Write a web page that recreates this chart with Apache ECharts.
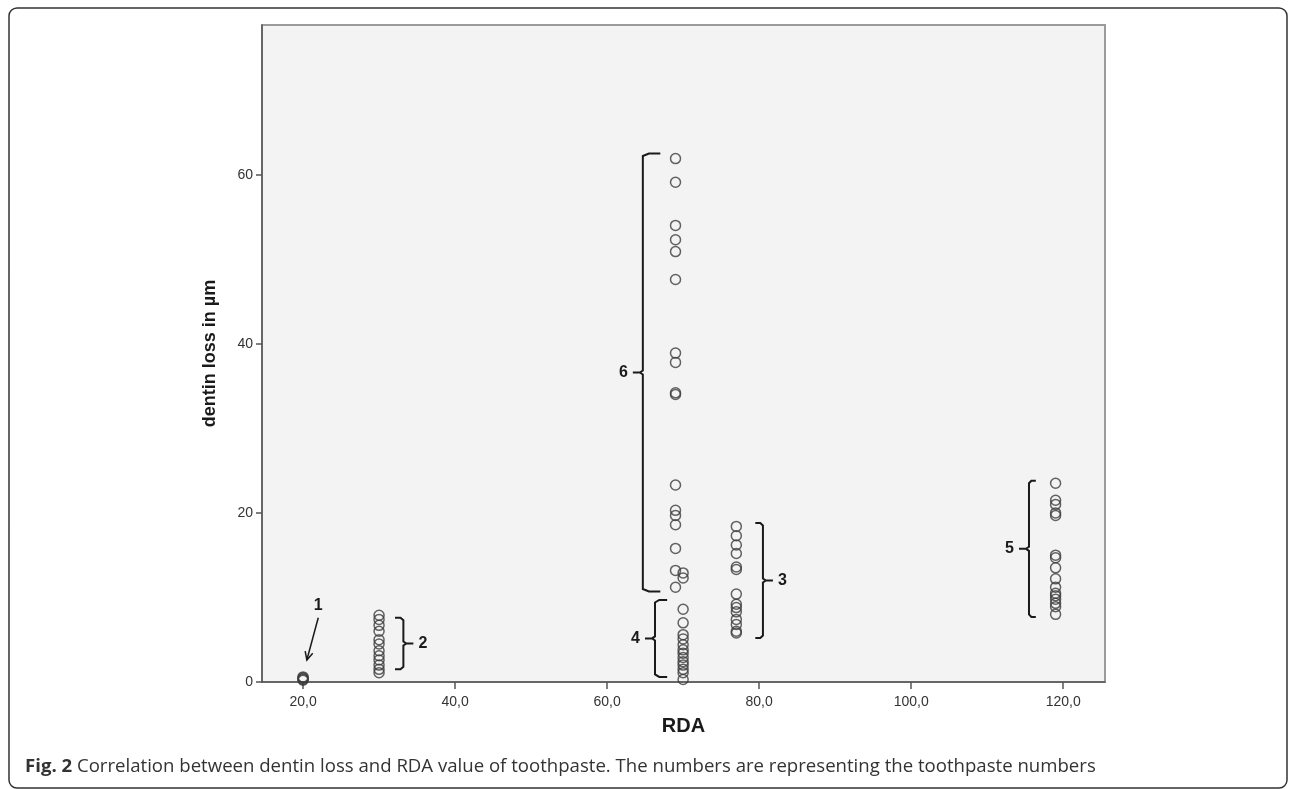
<!DOCTYPE html>
<html>
<head>
<meta charset="utf-8">
<script src="https://cdn.jsdelivr.net/npm/echarts@6/dist/echarts.min.js"></script>
<style>
  html, body { margin: 0; padding: 0; background: #fff; }
  #chart { width: 1290px; height: 789px; }
</style>
</head>
<body>
<div id="chart"></div>
<script>
// RDA value of each toothpaste and the measured dentin loss (µm)
var pasteRda = [20, 30, 77, 70, 119, 69];
var paste1 = [0.2, 0.3, 0.4, 0.5, 0.6];
var paste2 = [7.9, 7.4, 6.7, 6.0, 5.0, 4.5, 3.7, 3.1, 2.6, 2.0, 1.5, 1.1];
var paste3 = [18.4, 17.3, 16.2, 15.2, 13.6, 13.3, 10.4, 9.2, 8.8, 8.3, 7.4, 6.8, 6.0, 5.8];
var paste4 = [12.9, 12.3, 8.6, 7.0, 5.6, 5.1, 4.4, 3.8, 3.4, 2.9, 2.4, 2.0, 1.5, 1.1, 0.3];
var paste5 = [23.5, 21.5, 21.0, 20.0, 19.7, 15.0, 14.7, 13.5, 12.2, 11.2, 10.5, 10.2, 9.8, 9.3, 8.9, 8.0];
var paste6 = [61.9, 59.1, 54.0, 52.3, 50.9, 47.6, 38.9, 37.8, 34.0, 34.2, 23.3, 20.3, 19.7, 18.6, 15.8, 13.2, 11.2];

var xTicks = [20, 40, 60, 80, 100, 120];
var yTicks = [0, 20, 40, 60];

// brackets marking the toothpaste groups (data coordinates)
var bracketLabels = ['2', '3', '4', '5', '6'];
var bracketX      = [33.2, 80.5, 66.3, 115.5, 64.7];
var bracketHookX  = [32.1, 79.5, 67.9, 116.4, 67.0];
var bracketTop    = [7.6, 18.8, 9.7, 23.8, 62.5];
var bracketBottom = [1.5, 5.2, 0.6, 7.7, 10.7];

// arrow for toothpaste 1
var arrowFrom = [22.0, 7.6];
var arrowTo = [20.5, 2.6];

var pastes = [paste1, paste2, paste3, paste4, paste5, paste6];
var points = [];
for (var i = 0; i < pastes.length; i++) {
  for (var j = 0; j < pastes[i].length; j++) {
    points.push([pasteRda[i], pastes[i][j]]);
  }
}

var bracketData = [];
for (var k = 0; k < bracketLabels.length; k++) {
  bracketData.push([bracketX[k], bracketTop[k], bracketBottom[k], bracketHookX[k]]);
}

var ink = '#1a1a1a';
var labelFont = 'bold 16px Arial';

function renderBracket(params, api) {
  var pT = api.coord([api.value(0), api.value(1)]);
  var pB = api.coord([api.value(0), api.value(2)]);
  var pH = api.coord([api.value(3), api.value(1)]);
  var xs = pT[0], yT = pT[1], yB = pB[1], hx = pH[0];
  var dir = hx > xs ? -1 : 1; // direction of the middle tip
  var midY = (yT + yB) / 2;
  var tip = 10;
  var c = (hx - xs) * 0.35;
  return {
    type: 'group',
    children: [
      {
        type: 'polyline',
        shape: {
          points: [[hx, yT], [xs + c, yT], [xs, yT + 2.5], [xs, midY - 2], [xs + dir * 3, midY],
                   [xs + dir * tip, midY], [xs + dir * 3, midY], [xs, midY + 2],
                   [xs, yB - 2.5], [xs + c, yB], [hx, yB]]
        },
        style: { stroke: ink, lineWidth: 2, fill: null }
      },
      {
        type: 'text',
        x: xs + dir * (tip + 5),
        y: midY,
        style: {
          text: bracketLabels[params.dataIndex],
          font: labelFont,
          fill: ink,
          align: dir < 0 ? 'right' : 'left',
          verticalAlign: 'middle'
        }
      }
    ]
  };
}

function renderArrow(params, api) {
  var p1 = api.coord([api.value(0), api.value(1)]);
  var p2 = api.coord([api.value(2), api.value(3)]);
  var ang = Math.atan2(p1[1] - p2[1], p1[0] - p2[0]);
  var len = 9, spread = 0.45;
  var a1 = [p2[0] + len * Math.cos(ang + spread), p2[1] + len * Math.sin(ang + spread)];
  var a2 = [p2[0] + len * Math.cos(ang - spread), p2[1] + len * Math.sin(ang - spread)];
  return {
    type: 'group',
    children: [
      { type: 'line', shape: { x1: p1[0], y1: p1[1], x2: p2[0], y2: p2[1] }, style: { stroke: ink, lineWidth: 1.5 } },
      { type: 'polyline', shape: { points: [a1, p2, a2] }, style: { stroke: ink, lineWidth: 1.5, fill: null } },
      {
        type: 'text', x: p1[0], y: p1[1] - 4,
        style: { text: '1', font: labelFont, fill: ink, align: 'center', verticalAlign: 'bottom' }
      }
    ]
  };
}

var myChart = echarts.init(document.getElementById('chart'), null, { renderer: 'canvas' });

var option = {
  animation: false,
  backgroundColor: '#fff',
  textStyle: { fontFamily: 'Arial' },
  grid: {
    left: 262, right: 185, top: 25, bottom: 107,
    show: true,
    backgroundColor: '#f3f3f3',
    borderColor: '#9b9b9b',
    borderWidth: 2
  },
  xAxis: {
    type: 'value',
    min: 14.6,
    max: 125.5,
    name: 'RDA',
    nameLocation: 'middle',
    nameGap: 34,
    nameTextStyle: { fontSize: 20, fontWeight: 'bold', color: '#1a1a1a' },
    axisLine: { onZero: false, lineStyle: { color: '#555', width: 1.5 } },
    axisTick: { show: true, length: 7, customValues: xTicks, lineStyle: { color: '#555', width: 1.5 } },
    axisLabel: {
      customValues: xTicks,
      margin: 13,
      fontSize: 14,
      color: '#333',
      formatter: function (v) { return v.toFixed(1).replace('.', ','); }
    },
    splitLine: { show: false }
  },
  yAxis: {
    type: 'value',
    min: 0,
    max: 77.7,
    name: 'dentin loss in µm',
    nameLocation: 'middle',
    nameGap: 43,
    nameTextStyle: { fontSize: 18, fontWeight: 'bold', color: '#1a1a1a' },
    axisLine: { show: true, lineStyle: { color: '#555', width: 1.5 } },
    axisTick: { show: true, length: 6, customValues: yTicks, lineStyle: { color: '#555', width: 1.5 } },
    axisLabel: { customValues: yTicks, margin: 9, fontSize: 14, color: '#333' },
    splitLine: { show: false }
  },
  series: [
    {
      type: 'scatter',
      data: points,
      symbol: 'circle',
      symbolSize: 10,
      itemStyle: { color: 'rgba(0,0,0,0)', borderColor: '#3c3c3c', borderWidth: 1.5 },
      z: 3
    },
    {
      type: 'custom',
      renderItem: renderBracket,
      data: bracketData,
      clip: false,
      silent: true,
      z: 4
    },
    {
      type: 'custom',
      renderItem: renderArrow,
      data: [[arrowFrom[0], arrowFrom[1], arrowTo[0], arrowTo[1]]],
      clip: false,
      silent: true,
      z: 4
    }
  ],
  graphic: [
    {
      type: 'rect',
      shape: { x: 9, y: 8, width: 1278, height: 780, r: 8 },
      style: { fill: null, stroke: '#333', lineWidth: 1.5 },
      z: -1
    },
    {
      type: 'text',
      left: 25,
      top: 757,
      style: {
        text: '{b|Fig. 2} Correlation between dentin loss and RDA value of toothpaste. The numbers are representing the toothpaste numbers',
        font: '18.6px "Open Sans"',
        fill: '#333',
        rich: {
          b: { font: 'bold 18.6px "Open Sans"', fill: '#333' }
        }
      }
    }
  ]
};

myChart.setOption(option);
window.addEventListener('resize', function () {
  myChart.resize();
});
</script>
</body>
</html>
